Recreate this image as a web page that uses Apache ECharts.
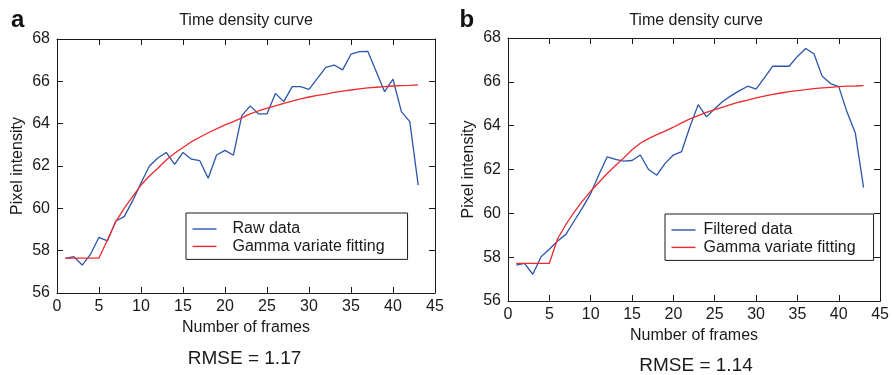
<!DOCTYPE html>
<html>
<head>
<meta charset="utf-8">
<title>Time density curve</title>
<script src="https://cdn.jsdelivr.net/npm/echarts@6/dist/echarts.min.js"></script>
<style>
  html, body { margin: 0; padding: 0; background: #ffffff; }
  #chart { width: 892px; height: 375px; }
</style>
</head>
<body>
<div id="chart"></div>
<script>
// Frame indices shared by both panels
const frames = [1, 2, 3, 4, 5, 6, 7, 8, 9, 10, 11, 12, 13, 14, 15, 16, 17, 18, 19, 20, 21, 22,
  23, 24, 25, 26, 27, 28, 29, 30, 31, 32, 33, 34, 35, 36, 37, 38, 39, 40, 41, 42, 43];

// Panel a: raw pixel intensity and its gamma variate fit
const rawData = [57.64, 57.72, 57.32, 57.84, 58.63, 58.46, 59.40, 59.61, 60.35, 61.20, 62.00,
  62.38, 62.64, 62.08, 62.64, 62.32, 62.25, 61.42, 62.52, 62.74, 62.51, 64.38, 64.84, 64.46,
  64.46, 65.43, 65.04, 65.75, 65.75, 65.62, 66.14, 66.66, 66.77, 66.54, 67.28, 67.40, 67.42,
  66.46, 65.51, 66.10, 64.57, 64.10, 61.10];
const gammaFitA = [57.65, 57.65, 57.65, 57.65, 57.65, 58.50, 59.37, 60.00, 60.55, 61.10, 61.53,
  61.89, 62.28, 62.60, 62.87, 63.15, 63.36, 63.57, 63.75, 63.94, 64.10, 64.27, 64.46, 64.61,
  64.73, 64.84, 64.96, 65.07, 65.17, 65.26, 65.34, 65.40, 65.48, 65.54, 65.59, 65.64, 65.69,
  65.72, 65.75, 65.78, 65.80, 65.81, 65.83];

// Panel b: filtered pixel intensity and its gamma variate fit
const filteredData = [57.64, 57.72, 57.22, 58.02, 58.36, 58.74, 59.04, 59.65, 60.25, 60.90, 61.77,
  62.58, 62.46, 62.38, 62.41, 62.66, 62.00, 61.74, 62.28, 62.66, 62.82, 63.95, 64.96, 64.40,
  64.77, 65.11, 65.37, 65.60, 65.80, 65.67, 66.18, 66.71, 66.71, 66.71, 67.16, 67.52, 67.28,
  66.25, 65.92, 65.78, 64.62, 63.67, 61.17];
const gammaFitB = [57.72, 57.72, 57.72, 57.72, 57.72, 58.84, 59.49, 60.06, 60.56, 61.01, 61.42,
  61.82, 62.18, 62.53, 62.90, 63.20, 63.41, 63.59, 63.75, 63.93, 64.13, 64.31, 64.46, 64.61,
  64.73, 64.85, 64.97, 65.08, 65.17, 65.27, 65.35, 65.43, 65.49, 65.55, 65.60, 65.64, 65.69,
  65.72, 65.75, 65.78, 65.80, 65.81, 65.83];

// Axis ranges and texts
const xRange = { min: 0, max: 45, interval: 5 };
const yRange = { min: 56, max: 68, interval: 2 };
const panelTitle = 'Time density curve';
const xName = 'Number of frames';
const yName = 'Pixel intensity';
const rmseA = 'RMSE = 1.17';
const rmseB = 'RMSE = 1.14';

const FONT = '"Liberation Sans", Arial, Helvetica, sans-serif';
const INK = '#1a1a1a';
const BLUE = '#2b55ab';
const RED = '#ee2a2e';

const pairs = (ys) => frames.map((f, i) => [f, ys[i]]);

const chart = echarts.init(document.getElementById('chart'), null, { renderer: 'canvas' });

function xAxisFor(gridIndex, position, withLabels, nameGap) {
  return {
    type: 'value', gridIndex, position,
    min: xRange.min, max: xRange.max, interval: xRange.interval,
    name: withLabels ? xName : '', nameLocation: 'middle', nameGap,
    nameTextStyle: { fontFamily: FONT, fontSize: 16, color: INK },
    axisLine: { show: true, onZero: false, lineStyle: { color: INK, width: 1 } },
    axisTick: { show: true, inside: true, length: 6, lineStyle: { color: INK } },
    axisLabel: { show: withLabels, margin: 6, fontFamily: FONT, fontSize: 16, color: INK },
    splitLine: { show: false }
  };
}

function yAxisFor(gridIndex, position, withLabels) {
  return {
    type: 'value', gridIndex, position,
    min: yRange.min, max: yRange.max, interval: yRange.interval,
    name: withLabels ? yName : '', nameLocation: 'middle', nameGap: 31,
    nameTextStyle: { fontFamily: FONT, fontSize: 16, color: INK },
    axisLine: { show: true, onZero: false, lineStyle: { color: INK, width: 1 } },
    axisTick: { show: true, inside: true, length: 6, lineStyle: { color: INK } },
    axisLabel: { show: withLabels, margin: 7, fontFamily: FONT, fontSize: 16, color: INK },
    splitLine: { show: false }
  };
}

function lineSeries(name, ys, color, axisIndex) {
  return {
    type: 'line', name, data: pairs(ys),
    xAxisIndex: axisIndex, yAxisIndex: axisIndex,
    symbol: 'none', smooth: false, animation: false,
    lineStyle: { color, width: 1.3 },
    itemStyle: { color }
  };
}

// Legend entries are drawn as short plain line segments
function legendFor(left, top, names, padding, textPadLeft) {
  return {
    orient: 'vertical', left, top, data: names,
    icon: 'rect',
    padding, itemWidth: 24, itemHeight: 1.4, itemGap: 1.4,
    borderColor: INK, borderWidth: 1, borderRadius: 0,
    backgroundColor: '#ffffff',
    textStyle: { fontFamily: FONT, fontSize: 16, color: INK, padding: [0, 0, 0, textPadLeft] }
  };
}

function text(x, y, str, size, weight) {
  return {
    type: 'text', x, y,
    style: {
      text: str, fontFamily: FONT, fontSize: size, fontWeight: weight || 'normal',
      fill: INK, align: 'center', verticalAlign: 'middle'
    }
  };
}

function letter(x, y, str) {
  return {
    type: 'text', x, y,
    style: {
      text: str, fontFamily: FONT, fontSize: 24, fontWeight: 'bold',
      fill: '#111', align: 'left', verticalAlign: 'middle'
    }
  };
}

chart.setOption({
  animation: false,
  grid: [
    { left: 57, top: 39, width: 378, height: 254 },
    { left: 508, top: 38, width: 378, height: 263 }
  ],
  xAxis: [
    xAxisFor(0, 'bottom', true, 26),
    xAxisFor(0, 'top', false, 0),
    xAxisFor(1, 'bottom', true, 24),
    xAxisFor(1, 'top', false, 0)
  ],
  yAxis: [
    yAxisFor(0, 'left', true),
    yAxisFor(0, 'right', false),
    yAxisFor(1, 'left', true),
    yAxisFor(1, 'right', false)
  ],
  legend: [
    legendFor(186, 213, ['Raw data', 'Gamma variate fitting'], [8, 23, 5, 6.5], 11),
    legendFor(665, 214, ['Filtered data', 'Gamma variate fitting'], [8, 18, 5, 6.5], 3)
  ],
  series: [
    lineSeries('Raw data', rawData, BLUE, 0),
    lineSeries('Gamma variate fitting', gammaFitA, RED, 0),
    lineSeries('Filtered data', filteredData, BLUE, 2),
    lineSeries('Gamma variate fitting', gammaFitB, RED, 2)
  ],
  graphic: [
    letter(11, 20, 'a'),
    letter(459.5, 20, 'b'),
    text(246, 21, panelTitle, 16),
    text(696, 21, panelTitle, 16),
    text(244.5, 359, rmseA, 19),
    text(696, 366, rmseB, 19)
  ]
});
</script>
</body>
</html>
